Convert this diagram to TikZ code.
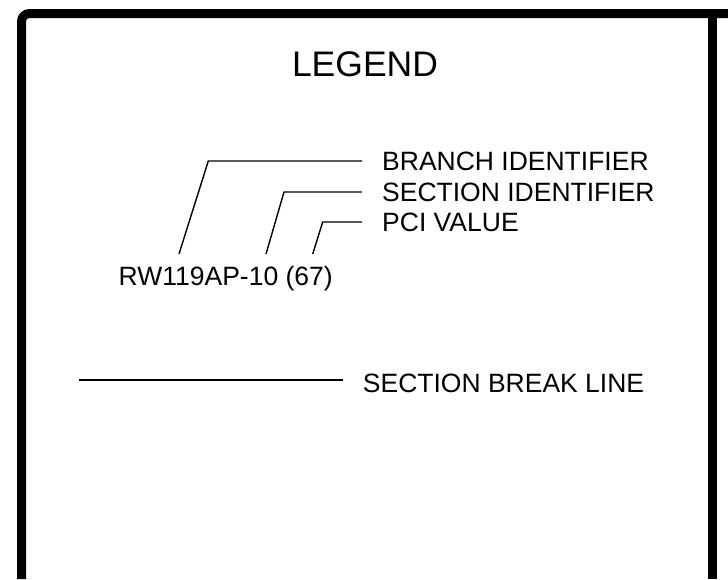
\documentclass[tikz,border=0pt]{standalone}
\usepackage{fontspec}
\setmainfont{Liberation Sans}
\usetikzlibrary{arrows}

\begin{document}
\begin{tikzpicture}[x=1pt, y=-1pt, line width=1.4pt,
    frame/.style={line width=9pt},
    lbl/.style={anchor=base west, inner xsep=19.5pt, inner ysep=0pt, font=\fontsize{26.5}{30}\selectfont},
    code/.style={anchor=base west, inner sep=0pt, font=\fontsize{26.5}{30}\selectfont}]

    % Page size
    \useasboundingbox (0,0) rectangle (728,579);
    \clip (0,0) rectangle (728,579);

    % Frame (open at the bottom)
    \draw[frame, rounded corners=8pt] (21.5,579) -- (21.5,13.5) -- (728,13.5);
    \draw[frame] (712.5,13.5) -- (712.5,579);

    % Title
    \node[anchor=base, inner sep=0pt, font=\fontsize{35.5}{40}\selectfont] (title) at (365,76) {LEGEND};

    % Sample label and its parts
    \node[code] (sample) at (118,285) {RW119AP-10 (67)};
    \node[lbl] (branch) at (362,170.5) {BRANCH IDENTIFIER};
    \node[lbl] (section) at (362,201) {SECTION IDENTIFIER};
    \node[lbl] (pci) at (362,231) {PCI VALUE};

    \coordinate (brfoot) at (179,254);
    \coordinate (brknee) at (208.3,161);
    \coordinate (secfoot) at (266,254);
    \coordinate (secknee) at (284,192);
    \coordinate (pcifoot) at (312.7,254);
    \coordinate (pciknee) at (322.7,222);

    % Leader lines
    \draw (brfoot) -- (brknee) -- (brknee -| branch.west);
    \draw (secfoot) -- (secknee) -- (secknee -| section.west);
    \draw (pcifoot) -- (pciknee) -- (pciknee -| pci.west);

    % Section break line
    \node[lbl] (breaklbl) at (342.7,392) {SECTION BREAK LINE};
    \coordinate (breakstart) at (79,380);
    \draw (breakstart) -- (breakstart -| breaklbl.west);

\end{tikzpicture}
\end{document}
